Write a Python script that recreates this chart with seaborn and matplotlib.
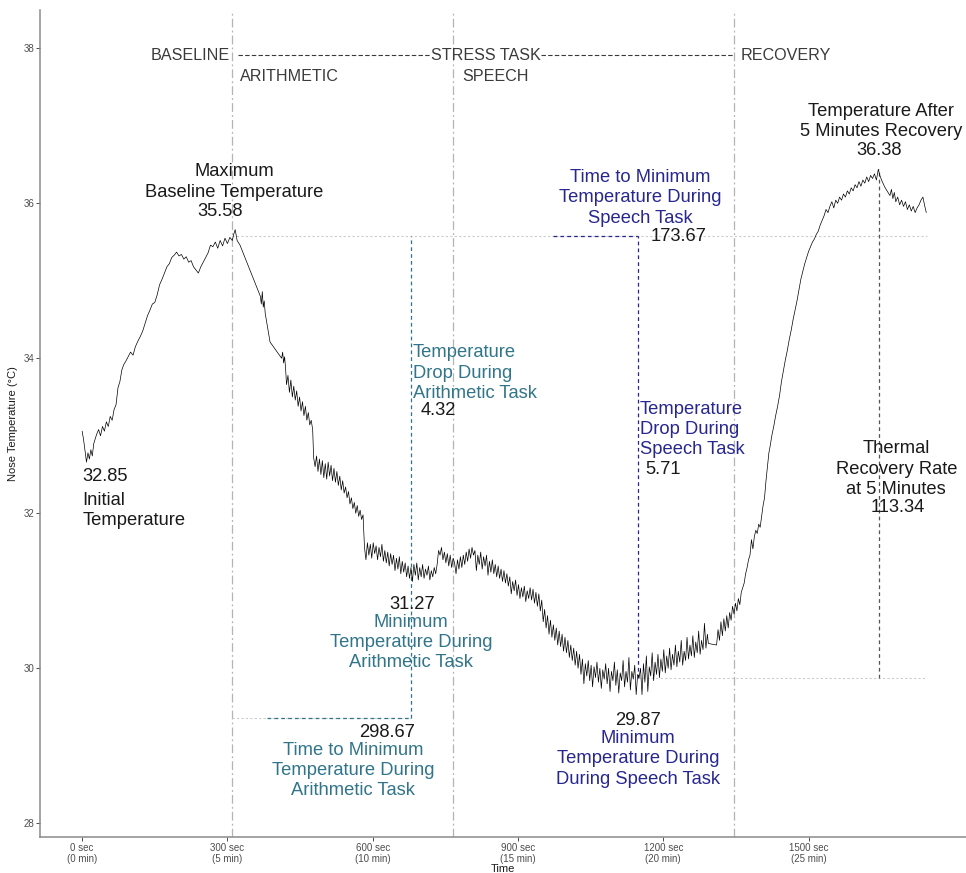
import numpy as np
import pandas as pd
import matplotlib
matplotlib.use("Agg")
import matplotlib.pyplot as plt
import seaborn as sns

sns.set_theme(style="white")
plt.rcParams['font.family'] = ['Liberation Sans', 'DejaVu Sans']

# ---------------- data ----------------
baseline_time = [0, 3, 6, 9, 12, 15, 18, 21, 24, 27, 30, 34, 38, 42, 46, 50, 54, 58, 62, 66,
                 70, 74, 78, 82, 86, 90, 95, 100, 105, 110, 115, 120, 125, 130, 135, 140, 145,
                 150, 155, 160, 165, 170, 175, 180, 185, 190, 195, 200, 205, 210, 215, 220, 225,
                 230, 235, 240, 245, 250, 255, 260, 265, 270, 275, 280, 285, 290, 295, 300, 305,
                 310, 313, 316]
baseline_temp = [33.06, 32.95, 32.80, 32.66, 32.78, 32.70, 32.82, 32.74, 32.90, 32.96, 33.02,
                 33.08, 33.00, 33.12, 33.06, 33.18, 33.12, 33.25, 33.20, 33.34, 33.40, 33.62,
                 33.70, 33.85, 33.92, 33.96, 34.02, 34.08, 34.04, 34.15, 34.22, 34.28, 34.35,
                 34.45, 34.55, 34.62, 34.70, 34.72, 34.82, 34.95, 35.02, 35.10, 35.18, 35.22,
                 35.30, 35.33, 35.37, 35.32, 35.34, 35.28, 35.31, 35.24, 35.26, 35.18, 35.14,
                 35.10, 35.18, 35.24, 35.30, 35.36, 35.46, 35.44, 35.50, 35.42, 35.52, 35.45,
                 35.55, 35.48, 35.56, 35.52, 35.60, 35.66]

arith_time = [320, 326, 368, 370, 372, 374, 376, 378, 388, 412, 414, 416, 418, 420, 422, 425,
              428, 431, 434, 437, 440, 443, 446, 449, 452, 455, 458, 461, 464, 467, 470, 473,
              476, 478, 481, 484, 487, 490, 493, 496, 499, 502, 505, 508, 511, 514, 517, 520,
              523, 526, 529, 532, 535, 538, 541, 544, 547, 550, 553, 556, 559, 562, 565, 568,
              571, 574, 577, 580, 583, 586, 589, 592, 595, 598, 601, 604, 607, 610, 613, 616,
              619, 622, 625, 628, 631, 634, 637, 640, 643, 646, 649, 652, 655, 658, 661, 664,
              667, 670, 673, 676, 679, 682, 685, 688, 691, 694, 697, 700, 703, 706, 709, 712,
              715, 718, 721, 724, 727, 730, 733, 736, 739, 742, 745, 748, 751, 754, 757, 760,
              763, 766]
arith_temp = [35.52, 35.46, 34.80, 34.70, 34.86, 34.66, 34.74, 34.58, 34.21, 34.00, 34.08,
              33.94, 34.02, 33.88, 33.66, 33.78, 33.56, 33.72, 33.50, 33.64, 33.46, 33.58,
              33.38, 33.50, 33.32, 33.44, 33.26, 33.38, 33.20, 33.30, 33.14, 33.20, 33.08,
              32.72, 32.60, 32.74, 32.54, 32.70, 32.50, 32.68, 32.46, 32.64, 32.44, 32.66,
              32.48, 32.62, 32.42, 32.58, 32.40, 32.54, 32.36, 32.48, 32.30, 32.42, 32.26,
              32.34, 32.20, 32.28, 32.12, 32.20, 32.06, 32.14, 32.00, 32.10, 31.96, 32.04,
              31.92, 31.98, 31.56, 31.40, 31.62, 31.46, 31.60, 31.42, 31.62, 31.48, 31.58,
              31.40, 31.56, 31.44, 31.60, 31.38, 31.52, 31.36, 31.50, 31.32, 31.48, 31.34,
              31.46, 31.26, 31.42, 31.28, 31.44, 31.22, 31.38, 31.24, 31.36, 31.18, 31.32,
              31.16, 31.30, 31.12, 31.34, 31.20, 31.36, 31.14, 31.30, 31.18, 31.34, 31.16,
              31.28, 31.20, 31.32, 31.14, 31.26, 31.18, 31.30, 31.22, 31.34, 31.52, 31.46,
              31.56, 31.40, 31.50, 31.36, 31.48, 31.32, 31.46, 31.30, 31.42]

speech_time = [769, 772, 775, 778, 781, 784, 787, 790, 793, 796, 799, 802, 805, 808, 811, 814,
               817, 820, 823, 826, 829, 832, 835, 838, 841, 844, 847, 850, 853, 856, 859, 862,
               865, 868, 871, 874, 877, 880, 883, 886, 889, 892, 895, 898, 901, 904, 907, 910,
               913, 916, 919, 922, 925, 928, 931, 934, 937, 940, 943, 946, 949, 952, 955, 958,
               961, 964, 967, 970, 973, 976, 979, 982, 985, 988, 991, 994, 997, 1000, 1003,
               1006, 1009, 1012, 1015, 1018, 1021, 1024, 1027, 1030, 1033, 1036, 1039, 1042,
               1045, 1048, 1051, 1054, 1057, 1060, 1063, 1066, 1069, 1072, 1075, 1078, 1081,
               1084, 1087, 1090, 1093, 1096, 1099, 1102, 1105, 1108, 1111, 1114, 1117, 1120,
               1123, 1126, 1129, 1132, 1135, 1138, 1141, 1144, 1147, 1150, 1153, 1156, 1159,
               1162, 1165, 1168, 1171, 1174, 1177, 1180, 1183, 1186, 1189, 1192, 1195, 1198,
               1201, 1204, 1207, 1210, 1213, 1216, 1219, 1222, 1225, 1228, 1231, 1234, 1237,
               1240, 1243, 1246, 1249, 1252, 1255, 1258, 1261, 1264, 1267, 1270, 1273, 1276,
               1279, 1282, 1285, 1288, 1291, 1293, 1310, 1313, 1316, 1319, 1322, 1325, 1328,
               1331, 1334, 1337, 1340, 1343]
speech_temp = [31.36, 31.22, 31.40, 31.28, 31.44, 31.30, 31.46, 31.34, 31.50, 31.38, 31.54,
               31.42, 31.56, 31.46, 31.52, 31.26, 31.46, 31.34, 31.50, 31.28, 31.44, 31.32,
               31.46, 31.20, 31.38, 31.24, 31.40, 31.22, 31.34, 31.18, 31.32, 31.16, 31.28,
               31.12, 31.26, 31.10, 31.22, 31.06, 31.18, 30.96, 31.12, 31.00, 31.14, 30.94,
               31.08, 30.90, 31.04, 30.92, 31.06, 30.86, 31.00, 30.90, 31.04, 30.88, 31.02,
               30.84, 30.98, 30.80, 30.96, 30.74, 30.88, 30.60, 30.76, 30.52, 30.68, 30.44,
               30.62, 30.40, 30.56, 30.36, 30.52, 30.30, 30.48, 30.28, 30.44, 30.22, 30.40,
               30.20, 30.36, 30.14, 30.30, 30.10, 30.26, 30.04, 30.22, 30.00, 30.18, 29.92,
               30.12, 29.80, 30.06, 29.90, 30.10, 29.84, 30.04, 29.76, 30.02, 29.88, 30.08,
               29.82, 30.00, 29.74, 29.98, 29.86, 30.06, 29.80, 30.00, 29.70, 29.96, 29.84,
               30.08, 29.78, 29.98, 29.68, 29.94, 29.84, 30.10, 29.76, 29.96, 29.82, 30.14,
               29.72, 29.96, 29.86, 30.04, 29.66, 29.92, 29.88, 30.00, 29.66, 30.06, 29.82,
               30.16, 29.70, 30.02, 29.90, 30.20, 29.84, 30.08, 29.92, 30.18, 29.88, 30.12,
               29.96, 30.24, 29.94, 30.16, 30.00, 30.26, 29.98, 30.18, 30.04, 30.30, 30.02,
               30.22, 30.08, 30.36, 30.04, 30.22, 30.10, 30.40, 30.12, 30.30, 30.16, 30.42,
               30.14, 30.34, 30.20, 30.48, 30.18, 30.36, 30.24, 30.58, 30.26, 30.44, 30.32,
               30.30, 30.50, 30.36, 30.60, 30.42, 30.64, 30.48, 30.68, 30.52, 30.72, 30.62,
               30.80]

recovery_time = [1346, 1349, 1352, 1355, 1358, 1361, 1364, 1367, 1370, 1373, 1376, 1379, 1382,
                 1385, 1388, 1391, 1394, 1397, 1400, 1403, 1406, 1409, 1412, 1415, 1418, 1421,
                 1424, 1428, 1432, 1436, 1440, 1444, 1448, 1452, 1456, 1460, 1464, 1468, 1472,
                 1476, 1480, 1484, 1488, 1492, 1496, 1500, 1504, 1508, 1512, 1516, 1520, 1524,
                 1528, 1532, 1536, 1540, 1544, 1548, 1552, 1556, 1560, 1564, 1568, 1572, 1576,
                 1580, 1584, 1588, 1592, 1596, 1600, 1604, 1608, 1612, 1616, 1620, 1624, 1628,
                 1632, 1636, 1640, 1644, 1647, 1652, 1658, 1664, 1668, 1671, 1674, 1677, 1680,
                 1684, 1688, 1692, 1696, 1700, 1704, 1708, 1712, 1716, 1720, 1724, 1728, 1732,
                 1736, 1740, 1743]
recovery_temp = [30.70, 30.84, 30.74, 30.90, 30.82, 30.98, 31.04, 31.10, 31.22, 31.30, 31.40,
                 31.46, 31.66, 31.54, 31.70, 31.78, 31.74, 31.86, 31.82, 31.96, 32.10, 32.20,
                 32.42, 32.60, 32.78, 32.88, 33.00, 33.12, 33.26, 33.38, 33.52, 33.70, 33.84,
                 33.98, 34.10, 34.24, 34.36, 34.50, 34.62, 34.74, 34.88, 35.02, 35.12, 35.22,
                 35.30, 35.38, 35.44, 35.50, 35.54, 35.60, 35.64, 35.72, 35.78, 35.84, 35.92,
                 35.88, 35.96, 36.02, 35.94, 36.04, 36.00, 36.08, 36.04, 36.12, 36.08, 36.16,
                 36.12, 36.20, 36.16, 36.24, 36.20, 36.28, 36.22, 36.30, 36.26, 36.34, 36.28,
                 36.36, 36.32, 36.38, 36.30, 36.44, 36.36, 36.28, 36.20, 36.14, 36.10, 36.18,
                 36.06, 36.14, 36.02, 36.08, 35.98, 36.04, 35.96, 36.02, 35.92, 35.98, 35.90,
                 35.96, 35.88, 35.94, 35.98, 36.04, 36.08, 35.96, 35.88]

phase_bounds = [308.5, 766, 1346]
x_ticks = [0, 300, 600, 900, 1200, 1500]
x_tick_labels = ["0 sec\n(0 min)", "300 sec\n(5 min)", "600 sec\n(10 min)",
                 "900 sec\n(15 min)", "1200 sec\n(20 min)", "1500 sec\n(25 min)"]
y_ticks = [28, 30, 32, 34, 36, 38]

max_baseline_temp = 35.58
initial_temp_label = "32.85"
min_arith_time, min_arith_temp = 680, 31.27
min_speech_time, min_speech_temp = 1148, 29.87
recovery_peak_time, recovery_peak_temp = 1646, 36.38
arith_drop, arith_time_to_min = "4.32", "298.67"
speech_drop, speech_time_to_min = "5.71", "173.67"
recovery_rate = "113.34"

TEAL = "#31758a"
NAVY = "#27278f"
DARK = "#1a1a1a"
PHASE = "#3a3a3a"

df = pd.DataFrame({
    "Time": np.concatenate([baseline_time, arith_time, speech_time, recovery_time]),
    "Temp": np.concatenate([baseline_temp, arith_temp, speech_temp, recovery_temp]),
})

fig = plt.figure(figsize=(9.66, 8.73), dpi=100)
ax = fig.add_axes([40 / 966, 36 / 873, 926 / 966, 827 / 873])

# reference lines
for b in phase_bounds:
    ax.axvline(b, color="#b4b4b4", lw=0.9, ls=(0, (7, 2.5, 1.5, 2.5)), zorder=1)
ax.hlines(max_baseline_temp, 309, 1745, color="#cccccc", lw=0.8, ls=(0, (2, 2)), zorder=1)
ax.hlines(min_speech_temp, min_speech_time, 1745, color="#cccccc", lw=0.8, ls=(0, (2, 2)), zorder=1)
ax.hlines(29.36, 309, min_arith_time, color="#cccccc", lw=0.8, ls=(0, (2, 2)), zorder=1)
ax.hlines(29.36, 382, min_arith_time, color=TEAL, lw=0.9, ls=(0, (3, 2.5)), zorder=2)
ax.vlines(min_arith_time, 29.36, max_baseline_temp, color=TEAL, lw=0.9, ls=(0, (3, 2.5)), zorder=2)
ax.hlines(max_baseline_temp, 973, min_speech_time, color=NAVY, lw=0.9, ls=(0, (3, 2.5)), zorder=2)
ax.vlines(min_speech_time, min_speech_temp, max_baseline_temp, color=NAVY, lw=0.9,
          ls=(0, (3, 2.5)), zorder=2)
ax.vlines(recovery_peak_time, min_speech_temp, 36.44, color="#555555", lw=0.9,
          ls=(0, (3, 2.5)), zorder=2)

sns.lineplot(data=df, x="Time", y="Temp", ax=ax, color="black", lw=0.5,
             estimator=None, sort=False, zorder=3)

# phase labels
py = 37.91
ax.hlines(py, 322, 721, color=PHASE, lw=0.8, ls=(0, (4, 2)))
ax.hlines(py, 948, 1346, color=PHASE, lw=0.8, ls=(0, (4, 2)))
pfs = 11.6
ax.text(304, py, "BASELINE", ha="right", va="center", fontsize=pfs, color=PHASE)
ax.text(834, py, "STRESS TASK", ha="center", va="center", fontsize=pfs, color=PHASE)
ax.text(1359, py, "RECOVERY", ha="left", va="center", fontsize=pfs, color=PHASE)
ax.text(325, 37.63, "ARITHMETIC", ha="left", va="center", fontsize=pfs, color=PHASE)
ax.text(785, 37.63, "SPEECH", ha="left", va="center", fontsize=pfs, color=PHASE)

# annotations
fs = 13.2
ls_ = 1.25
kw = dict(fontsize=fs, linespacing=ls_)
ax.text(314, 36.275, "Maximum\nBaseline Temperature", ha="center", va="center", color=DARK, **kw)
ax.text(285, 35.89, f"{max_baseline_temp:.2f}", ha="center", va="center", color=DARK, **kw)
ax.text(0, 32.47, initial_temp_label, ha="left", va="center", color=DARK, **kw)
ax.text(0, 32.04, "Initial\nTemperature", ha="left", va="center", color=DARK, **kw)

ax.text(683, 33.81, "Temperature\nDrop During\nArithmetic Task", ha="left", va="center",
        color=TEAL, **kw)
ax.text(698, 33.33, arith_drop, ha="left", va="center", color=DARK, **kw)
ax.text(681, 30.82, f"{min_arith_temp:.2f}", ha="center", va="center", color=DARK, **kw)
ax.text(679, 30.33, "Minimum\nTemperature During\nArithmetic Task", ha="center", va="center",
        color=TEAL, **kw)
ax.text(630, 29.17, arith_time_to_min, ha="center", va="center", color=DARK, **kw)
ax.text(560, 28.68, "Time to Minimum\nTemperature During\nArithmetic Task", ha="center",
        va="center", color=TEAL, **kw)

ax.text(1152, 36.07, "Time to Minimum\nTemperature During\nSpeech Task", ha="center",
        va="center", color=NAVY, **kw)
ax.text(1173, 35.57, speech_time_to_min, ha="left", va="center", color=DARK, **kw)
ax.text(1152, 33.08, "Temperature\nDrop During\nSpeech Task", ha="left", va="center",
        color=NAVY, **kw)
ax.text(1163, 32.57, speech_drop, ha="left", va="center", color=DARK, **kw)
ax.text(1148, 29.33, f"{min_speech_temp:.2f}", ha="center", va="center", color=DARK, **kw)
ax.text(1148, 28.83, "Minimum\nTemperature During\nDuring Speech Task", ha="center",
        va="center", color=NAVY, **kw)

ax.text(1650, 37.06, "Temperature After\n5 Minutes Recovery", ha="center", va="center",
        color=DARK, **kw)
ax.text(1646, 36.68, f"{recovery_peak_temp:.2f}", ha="center", va="center", color=DARK, **kw)
ax.text(1681, 32.57, "Thermal\nRecovery Rate\nat 5 Minutes", ha="center", va="center",
        color=DARK, **kw)
ax.text(1685, 32.08, recovery_rate, ha="center", va="center", color=DARK, **kw)

# axes styling
ax.set_xlim(-87, 1825)
ax.set_ylim(27.823, 38.494)
ax.set_xticks(x_ticks)
ax.set_xticklabels(x_tick_labels, linespacing=1.15)
ax.set_yticks(y_ticks)
ax.set_yticklabels([str(v) for v in y_ticks])
ax.tick_params(axis="both", labelsize=7, colors="#4d4d4d", length=3, width=0.7, pad=1.0,
               direction="out", bottom=True, left=True)
for s in ["top", "right"]:
    ax.spines[s].set_visible(False)
for s in ["left", "bottom"]:
    ax.spines[s].set_color("#8a8a8a")
    ax.spines[s].set_linewidth(1.1)
ax.set_xlabel("Time", fontsize=8, color=DARK)
ax.xaxis.set_label_coords(0.5, -0.0385)
ax.xaxis.label.set_va("center")
ax.set_ylabel("Nose Temperature (°C)", fontsize=8, color=DARK)
ax.yaxis.set_label_coords(-27 / 926, 0.5)
ax.yaxis.label.set_va("center")
ax.grid(False)

fig.savefig("out.png", dpi=100)
